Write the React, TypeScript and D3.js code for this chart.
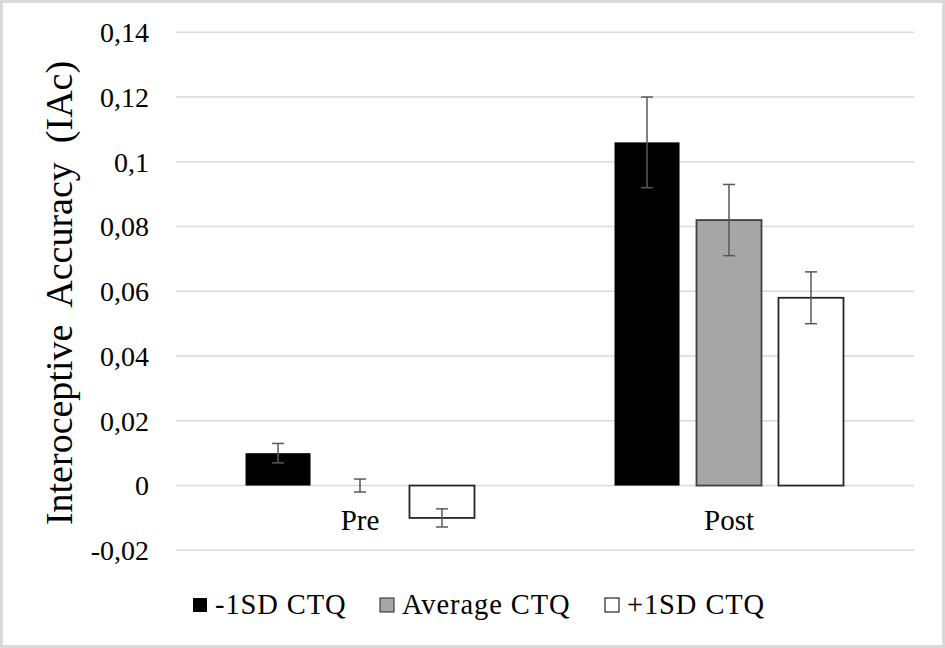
import React from "react";
import * as d3 from "d3";

const categories = ["Pre", "Post"];
const seriesNames = ["-1SD CTQ", "Average CTQ", "+1SD CTQ"];
const preValues = [0.01, 0.0, -0.01];
const postValues = [0.106, 0.082, 0.058];
const preErrors = [0.003, 0.002, 0.0028];
const postErrors = [0.014, 0.011, 0.008];
const yTicks = [-0.02, 0, 0.02, 0.04, 0.06, 0.08, 0.1, 0.12, 0.14];
const yTickLabels = ["-0,02", "0", "0,02", "0,04", "0,06", "0,08", "0,1", "0,12", "0,14"];
const yTitle = "Interoceptive  Accuracy  (IAc)";

const W = 945;
const H = 648;
const FONT = "'Liberation Serif', 'Times New Roman', serif";
const fills = ["#000000", "#a6a6a6", "#ffffff"];
const strokes = ["#000000", "#404040", "#262626"];
const legendX = [193, 380, 605];

export default function App() {
  const values = [preValues, postValues];
  const errors = [preErrors, postErrors];

  const x0 = d3.scaleBand<string>().domain(categories).range([175.5, 913.5]).padding(0);
  const x1 = d3
    .scaleBand<string>()
    .domain(seriesNames)
    .range([0, x0.bandwidth()])
    .paddingInner(0.207)
    .paddingOuter(0.854);
  const y = d3.scaleLinear().domain([-0.02, 0.14]).range([550.3, 32.3]);

  return (
    <svg
      width={W}
      height={H}
      style={{ position: "absolute", left: 0, top: 0, background: "#fff" }}
      fontFamily={FONT}
    >
      <rect x={0} y={0} width={W} height={H} fill="#ffffff" />
      <rect x={1.5} y={1.5} width={W - 3} height={H - 3} fill="none" stroke="#d9d9d9" strokeWidth={3} />

      {yTicks.map((t) => (
        <line key={t} x1={176} x2={914} y1={y(t)} y2={y(t)} stroke="#d9d9d9" strokeWidth={1.5} />
      ))}

      {yTicks.map((t, i) => (
        <text key={"l" + t} x={149} y={y(t)} dy="0.35em" textAnchor="end" fontSize={28} fill="#000">
          {yTickLabels[i]}
        </text>
      ))}

      <text
        transform={`translate(72, 293) rotate(-90)`}
        textAnchor="middle"
        fontSize={38}
        fill="#000"
        style={{ whiteSpace: "pre" }}
      >
        {yTitle}
      </text>

      {categories.map((c, ci) => (
        <g key={c} transform={`translate(${x0(c)},0)`}>
          {seriesNames.map((s, si) => {
            const v = values[ci][si];
            const e = errors[ci][si];
            const bx = x1(s)!;
            const bw = x1.bandwidth();
            const top = y(Math.max(0, v));
            const bot = y(Math.min(0, v));
            const cx = bx + bw / 2;
            return (
              <g key={s}>
                {Math.abs(v) > 0 && (
                  <rect
                    x={bx}
                    y={top}
                    width={bw}
                    height={bot - top}
                    fill={fills[si]}
                    stroke={strokes[si]}
                    strokeWidth={si === 0 ? 0 : 1.8}
                  />
                )}
                <line x1={cx} x2={cx} y1={y(v + e)} y2={y(v - e)} stroke="#595959" strokeWidth={1.5} />
                <line x1={cx - 6} x2={cx + 6} y1={y(v + e)} y2={y(v + e)} stroke="#595959" strokeWidth={1.5} />
                <line x1={cx - 6} x2={cx + 6} y1={y(v - e)} y2={y(v - e)} stroke="#595959" strokeWidth={1.5} />
              </g>
            );
          })}
          <text x={x0.bandwidth() / 2} y={530} textAnchor="middle" fontSize={29} fill="#000">
            {c}
          </text>
        </g>
      ))}

      {seriesNames.map((s, si) => (
        <g key={"lg" + s}>
          <rect
            x={legendX[si]}
            y={598}
            width={14}
            height={14}
            fill={fills[si]}
            stroke={strokes[si]}
            strokeWidth={si === 0 ? 0 : 1.2}
          />
          <text x={legendX[si] + 22} y={614} fontSize={28.5} letterSpacing={0.9} fill="#000">
            {s}
          </text>
        </g>
      ))}
    </svg>
  );
}
